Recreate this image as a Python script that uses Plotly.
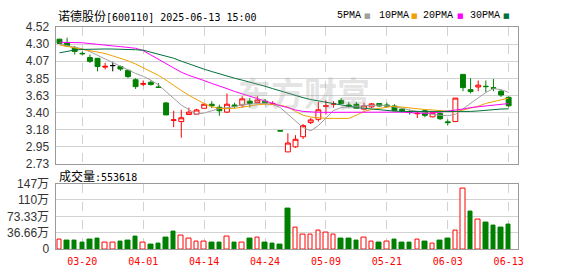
import plotly.graph_objects as go

# ---------------- data ----------------
dates = ["03-17", "03-18", "03-19", "03-20", "03-21", "03-24", "03-25", "03-26", "03-27", "03-28", "03-31",
         "04-01", "04-02", "04-03", "04-07", "04-08", "04-09", "04-10", "04-11", "04-14", "04-15", "04-16",
         "04-17", "04-18", "04-21", "04-22", "04-23", "04-24", "04-25", "04-28", "04-29", "04-30",
         "05-06", "05-07", "05-08", "05-09", "05-12", "05-13", "05-14", "05-15", "05-16", "05-19", "05-20",
         "05-21", "05-22", "05-23", "05-26", "05-27", "05-28", "05-29", "05-30",
         "06-03", "06-04", "06-05", "06-06", "06-09", "06-10", "06-11", "06-12", "06-13"]

open_ = [4.36, 4.313, 4.243, 4.175, 4.12, 4.11, 3.995, 4.015, 4.003, 3.953,
         3.83, 3.77, 3.797, 3.735, 3.527, 3.30, 3.283, 3.375, 3.38, 3.457,
         3.51, 3.47, 3.407, 3.50, 3.50, 3.55, 3.53, 3.55, 3.505, 3.165,
         2.887, 2.953, 3.085, 3.27, 3.313, 3.48, 3.51, 3.56, 3.50, 3.51,
         3.445, 3.475, 3.52, 3.50, 3.487, 3.445, 3.415, 3.385, 3.425, 3.345,
         3.39, 3.28, 3.283, 3.90, 3.70, 3.735, 3.745, 3.725, 3.68, 3.60]
high = [4.365, 4.38, 4.27, 4.20, 4.16, 4.11, 4.05, 4.065, 4.015, 3.96,
        3.85, 3.82, 3.82, 3.785, 3.54, 3.425, 3.437, 3.465, 3.45, 3.52,
        3.55, 3.505, 3.65, 3.53, 3.615, 3.59, 3.615, 3.58, 3.55, 3.165,
        3.13, 3.106, 3.25, 3.33, 3.54, 3.56, 3.55, 3.59, 3.54, 3.54,
        3.53, 3.525, 3.525, 3.53, 3.51, 3.46, 3.435, 3.41, 3.44, 3.40,
        3.40, 3.31, 3.59, 3.90, 3.85, 3.82, 3.82, 3.84, 3.70, 3.615]
low = [4.30, 4.27, 4.16, 4.148, 4.05, 3.94, 3.965, 3.94, 3.945, 3.85,
       3.71, 3.747, 3.755, 3.73, 3.37, 3.21, 3.072, 3.375, 3.375, 3.455,
       3.46, 3.36, 3.395, 3.457, 3.466, 3.466, 3.52, 3.51, 3.50, 3.16,
       2.887, 2.94, 3.055, 3.25, 3.283, 3.375, 3.465, 3.52, 3.466, 3.457,
       3.43, 3.46, 3.48, 3.475, 3.42, 3.40, 3.375, 3.33, 3.34, 3.34,
       3.305, 3.235, 3.283, 3.68, 3.65, 3.68, 3.665, 3.68, 3.605, 3.47]
close = [4.305, 4.272, 4.20, 4.17, 4.07, 4.003, 4.005, 4.015, 3.97, 3.871,
         3.74, 3.78, 3.767, 3.73, 3.37, 3.305, 3.333, 3.407, 3.435, 3.51,
         3.49, 3.425, 3.51, 3.482, 3.58, 3.52, 3.565, 3.527, 3.52, 3.16,
         3.003, 3.052, 3.23, 3.305, 3.437, 3.49, 3.515, 3.52, 3.487, 3.457,
         3.49, 3.515, 3.487, 3.487, 3.43, 3.425, 3.405, 3.39, 3.365, 3.40,
         3.32, 3.27, 3.59, 3.727, 3.675, 3.76, 3.74, 3.72, 3.63, 3.49]

# volume in 万 (10k)
volume_wan = [20.6, 19.1, 19.1, 15.6, 21.3, 23.4, 14.9, 14.9, 17.0, 19.1,
              27.6, 14.9, 10.6, 12.8, 25.5, 38.3, 29.8, 23.4, 16.4, 16.4,
              14.9, 14.9, 27.0, 14.9, 14.9, 23.4, 24.8, 14.9, 12.8, 10.6,
              89.9, 48.9, 31.9, 31.9, 40.4, 37.6, 31.9, 23.4, 23.4, 19.1,
              24.8, 16.4, 14.9, 16.4, 20.6, 14.9, 14.9, 20.6, 17.0, 12.1,
              19.1, 23.4, 41.9, 135.4, 85.0, 65.2, 59.5, 53.1, 48.9, 55.36]
# 1 = up day (red hollow bar), -1 = down day (green bar)
vol_dir = [1, -1, -1, -1, -1, -1, 1, 1, -1, -1,
           -1, 1, -1, -1, -1, -1, 1, 1, 1, 1,
           -1, -1, 1, -1, 1, -1, 1, -1, -1, -1,
           -1, 1, 1, 1, 1, 1, 1, -1, -1, -1,
           1, 1, -1, 1, -1, -1, -1, 1, -1, 1,
           -1, -1, 1, 1, -1, 1, -1, -1, -1, -1]

ma5 = [4.297, 4.278, 4.26, 4.235, 4.197, 4.148, 4.098, 4.055, 4.011, 3.962,
       3.912, 3.875, 3.825, 3.763, 3.676, 3.59, 3.499, 3.441, 3.379, 3.395,
       3.428, 3.453, 3.466, 3.478, 3.503, 3.515, 3.519, 3.519, 3.509, 3.466,
       3.379, 3.28, 3.205, 3.162, 3.23, 3.329, 3.428, 3.466, 3.478, 3.484,
       3.49, 3.497, 3.499, 3.49, 3.478, 3.459, 3.435, 3.416, 3.391, 3.379,
       3.366, 3.36, 3.379, 3.453, 3.515, 3.59, 3.664, 3.714, 3.701, 3.664]
ma10 = [4.284, 4.266, 4.243, 4.222, 4.21, 4.191, 4.173, 4.142, 4.111, 4.077,
        4.036, 3.987, 3.937, 3.887, 3.825, 3.751, 3.689, 3.627, 3.571, 3.519,
        3.478, 3.457, 3.453, 3.457, 3.472, 3.49, 3.503, 3.511, 3.509, 3.497,
        3.472, 3.416, 3.366, 3.342, 3.329, 3.325, 3.325, 3.325, 3.325, 3.366,
        3.416, 3.441, 3.457, 3.472, 3.484, 3.472, 3.459, 3.449, 3.441, 3.435,
        3.425, 3.412, 3.41, 3.435, 3.459, 3.484, 3.521, 3.546, 3.569, 3.59]
ma20 = [4.32, 4.32, 4.318, 4.313, 4.303, 4.29, 4.281, 4.272, 4.263, 4.253,
        4.241, 4.21, 4.154, 4.104, 4.049, 3.987, 3.928, 3.887, 3.856, 3.819,
        3.782, 3.751, 3.714, 3.677, 3.645, 3.614, 3.583, 3.552, 3.521, 3.49,
        3.466, 3.435, 3.416, 3.407, 3.404, 3.404, 3.404, 3.404, 3.406, 3.407,
        3.41, 3.412, 3.412, 3.412, 3.41, 3.407, 3.40, 3.391, 3.391, 3.395,
        3.407, 3.42, 3.435, 3.447, 3.466, 3.478, 3.49, 3.503, 3.511, 3.519]
ma30 = [4.181, 4.204, 4.219, 4.226, 4.231, 4.232, 4.232, 4.231, 4.23, 4.227,
        4.222, 4.216, 4.191, 4.16, 4.135, 4.111, 4.073, 4.036, 4.005, 3.968,
        3.937, 3.906, 3.875, 3.85, 3.825, 3.80, 3.776, 3.745, 3.714, 3.683,
        3.652, 3.621, 3.596, 3.571, 3.552, 3.534, 3.521, 3.503, 3.478, 3.466,
        3.457, 3.447, 3.435, 3.425, 3.42, 3.416, 3.416, 3.414, 3.412, 3.412,
        3.412, 3.412, 3.412, 3.412, 3.416, 3.422, 3.432, 3.441, 3.447, 3.45]

price_ticks = [4.52, 4.29625, 4.0725, 3.84875, 3.625, 3.40125, 3.1775, 2.95375, 2.73]
price_tick_text = ["4.52", "4.30", "4.07", "3.85", "3.63", "3.40", "3.18", "2.95", "2.73"]
vol_ticks = [0, 36.66, 73.33, 110, 146.66]
vol_tick_text = ["0", "36.66万", "73.33万", "110万", "147万"]
tick_dates = ["03-20", "04-01", "04-14", "04-24", "05-09", "05-21", "06-03", "06-13"]

stock_name = "诺德股份"
stock_code = "600110"
timestamp = "2025-06-13 15:00"
latest_volume = 553618
ma_names = ["5PMA", "10PMA", "20PMA", "30PMA"]

# ---------------- styling ----------------
RED = "#ff0000"
GREEN = "#008000"
MA_COLORS = ["#a0a0a0", "#f0a000", "#ff00ff", "#00703a"]
GRID = "#d2d2d2"
FRAME = "#9a9a9a"
W, H = 578, 276
X0, X1 = 56, 522.7
MAIN_TOP, MAIN_BOT = 21, 165.3
VOL_TOP, VOL_BOT = 186, 255

idx = list(range(len(dates)))
tick_pos = [dates.index(d) for d in tick_dates]
xrange_ = [-0.52, len(dates) + 0.25]

fig = go.Figure()


def candle(ids, line_color, fill_color):
    return go.Candlestick(
        x=ids,
        open=[open_[i] for i in ids], high=[high[i] for i in ids],
        low=[low[i] for i in ids], close=[close[i] for i in ids],
        increasing=dict(line=dict(color=line_color, width=1), fillcolor=fill_color),
        decreasing=dict(line=dict(color=line_color, width=1), fillcolor=fill_color),
        whiskerwidth=0, showlegend=False, hoverinfo="skip",
        xaxis="x", yaxis="y")


up_ids = [i for i in idx if close[i] > open_[i]]
dn_ids = [i for i in idx if close[i] < open_[i]]
flat_ids = [i for i in idx if close[i] == open_[i]]
fig.add_trace(candle(up_ids, RED, "#ffffff"))
fig.add_trace(candle(dn_ids, GREEN, GREEN))
fig.add_trace(candle(flat_ids, "#000000", "#000000"))

for name, vals, col in zip(ma_names, [ma5, ma10, ma20, ma30], MA_COLORS):
    fig.add_trace(go.Scatter(x=idx, y=vals, mode="lines", name=name,
                             line=dict(color=col, width=1), showlegend=False,
                             hoverinfo="skip", xaxis="x", yaxis="y"))

fig.add_trace(go.Bar(
    x=idx, y=volume_wan, width=0.6,
    marker=dict(color=["#ffffff" if d > 0 else GREEN for d in vol_dir],
                line=dict(color=[RED if d > 0 else GREEN for d in vol_dir], width=1)),
    showlegend=False, hoverinfo="skip", xaxis="x2", yaxis="y2"))

xdom = [X0 / W, X1 / W]
axis_common = dict(showline=True, mirror=True, linecolor=FRAME, linewidth=1,
                   zeroline=False, fixedrange=True)

fig.update_layout(
    width=W, height=H, margin=dict(l=0, r=0, t=0, b=0),
    paper_bgcolor="#ffffff", plot_bgcolor="#ffffff",
    showlegend=False, boxgap=0.2, boxgroupgap=0.2, bargap=0,
    xaxis=dict(domain=xdom, range=xrange_, tickvals=tick_pos, showticklabels=False,
               showgrid=True, gridcolor=GRID, griddash="dash", ticks="",
               rangeslider=dict(visible=False), anchor="y", **axis_common),
    yaxis=dict(domain=[1 - MAIN_BOT / H, 1 - MAIN_TOP / H], range=[price_ticks[-1], price_ticks[0]],
               tickvals=price_ticks, ticktext=price_tick_text, showgrid=True, gridcolor=GRID,
               ticks="outside", ticklen=3, tickcolor="rgba(0,0,0,0)",
               tickfont=dict(family="Liberation Sans, Arial", size=12, color="#333333"),
               anchor="x", **axis_common),
    xaxis2=dict(domain=xdom, range=xrange_, tickvals=tick_pos, ticktext=tick_dates,
                showgrid=True, gridcolor=GRID, griddash="dash",
                ticks="outside", ticklen=3, tickcolor="rgba(0,0,0,0)",
                tickfont=dict(family="DejaVu Sans Mono", size=10, color=RED),
                anchor="y2", **axis_common),
    yaxis2=dict(domain=[1 - VOL_BOT / H, 1 - VOL_TOP / H], range=[vol_ticks[0], vol_ticks[-1]],
                tickvals=vol_ticks, ticktext=vol_tick_text, showgrid=True, gridcolor=GRID,
                ticks="outside", ticklen=3, tickcolor="rgba(0,0,0,0)",
                tickfont=dict(family="Liberation Sans, Noto Sans CJK SC", size=12, color="#333333"),
                anchor="x2", **axis_common),
)

CJK = "font-family:'Noto Sans CJK SC';font-size:12px"
ann = []
# watermark
ann.append(dict(text="<b>东方财富</b>", xref="paper", yref="paper", x=307 / W, y=1 - 90 / H,
                xanchor="center", yanchor="middle", showarrow=False,
                font=dict(family="Noto Sans CJK SC", size=33, color="rgba(160,160,160,0.3)")))
# title
ann.append(dict(text=f"<span style=\"{CJK}\">{stock_name}</span>[{stock_code}] {timestamp}",
                xref="paper", yref="paper", x=56 / W, y=1 - 8.5 / H, xanchor="left", yanchor="middle",
                showarrow=False, font=dict(family="DejaVu Sans Mono", size=10, color="#000000")))
# volume title
ann.append(dict(text=f"<span style=\"{CJK}\">成交量</span>:{latest_volume}",
                xref="paper", yref="paper", x=57 / W, y=1 - 177 / H, xanchor="left", yanchor="middle",
                showarrow=False, font=dict(family="DejaVu Sans Mono", size=10, color="#000000")))
# MA legend
label_x = [338, 380, 425, 472]
square_x = [365, 413, 459, 505]
for name, col, lx, sx in zip(ma_names, MA_COLORS, label_x, square_x):
    ann.append(dict(text=name, xref="paper", yref="paper", x=lx / W, y=1 - 8.5 / H,
                    xanchor="left", yanchor="middle", showarrow=False,
                    font=dict(family="Liberation Mono", size=10, color="#000000")))
    ann.append(dict(text="■", xref="paper", yref="paper", x=sx / W, y=1 - 9 / H,
                    xanchor="left", yanchor="middle", showarrow=False,
                    font=dict(family="DejaVu Sans", size=7, color=col)))
fig.update_layout(annotations=ann)

fig.write_html("out.html")
